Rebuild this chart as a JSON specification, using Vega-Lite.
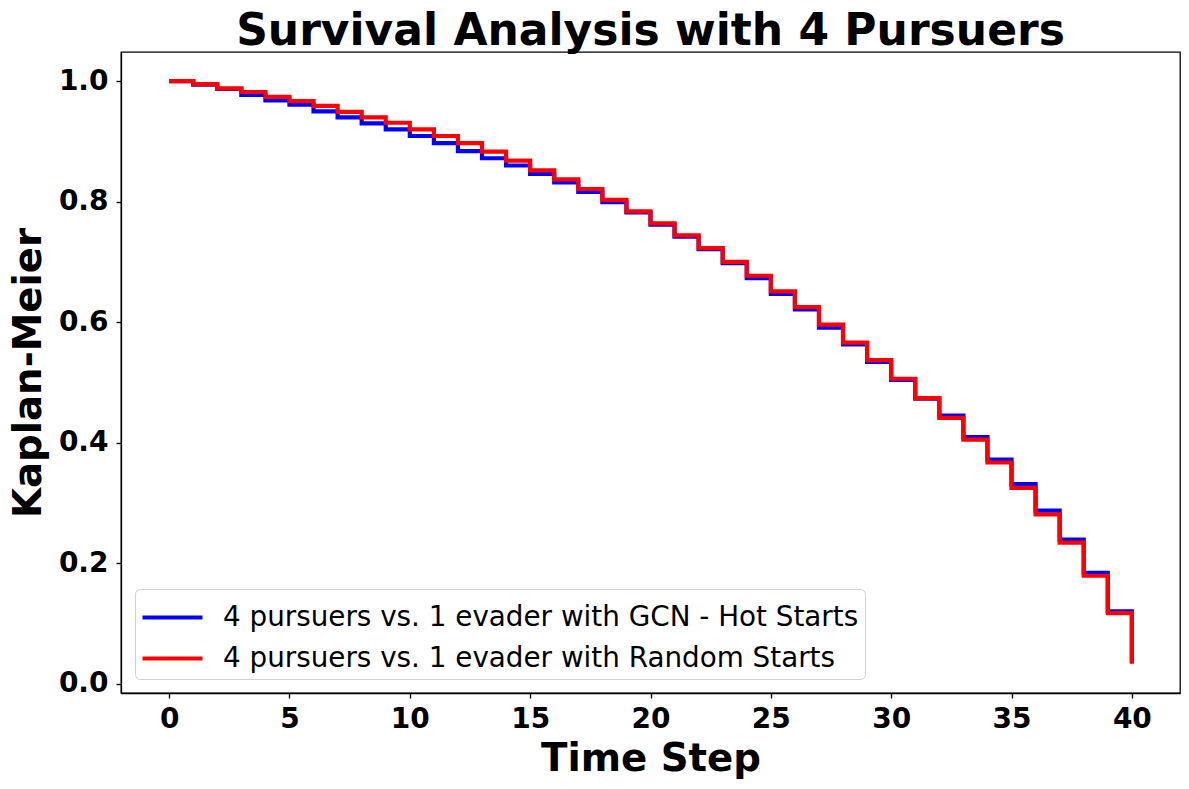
{
  "$schema": "https://vega.github.io/schema/vega-lite/v6.json",
  "width": 1059,
  "height": 641,
  "autosize": {"type": "none"},
  "padding": {"left": 121, "top": 52, "right": 9, "bottom": 96},
  "background": "white",
  "config": {
    "font": "DejaVu Sans",
    "view": {"stroke": "black", "strokeWidth": 1.3},
    "axis": {"grid": false, "domainColor": "black", "domainWidth": 1.3, "tickColor": "black", "tickWidth": 1.3, "tickSize": 5, "labelColor": "black", "labelFont": "DejaVu Sans", "labelFontWeight": "bold", "labelFontSize": 28, "titleFont": "DejaVu Sans", "titleFontWeight": "bold", "titleFontSize": 38.7, "titleColor": "black"}
  },
  "title": {"text": "Survival Analysis with 4 Pursuers", "font": "DejaVu Sans", "fontSize": 44, "fontWeight": "bold", "color": "black", "anchor": "middle", "offset": -2},
  "data": {"values": [
    {"t":0,"series":"4 pursuers vs. 1 evader with GCN - Hot Starts","km":1.0},
    {"t":1,"series":"4 pursuers vs. 1 evader with GCN - Hot Starts","km":0.994},
    {"t":2,"series":"4 pursuers vs. 1 evader with GCN - Hot Starts","km":0.987},
    {"t":3,"series":"4 pursuers vs. 1 evader with GCN - Hot Starts","km":0.977},
    {"t":4,"series":"4 pursuers vs. 1 evader with GCN - Hot Starts","km":0.968},
    {"t":5,"series":"4 pursuers vs. 1 evader with GCN - Hot Starts","km":0.961},
    {"t":6,"series":"4 pursuers vs. 1 evader with GCN - Hot Starts","km":0.950},
    {"t":7,"series":"4 pursuers vs. 1 evader with GCN - Hot Starts","km":0.940},
    {"t":8,"series":"4 pursuers vs. 1 evader with GCN - Hot Starts","km":0.930},
    {"t":9,"series":"4 pursuers vs. 1 evader with GCN - Hot Starts","km":0.920},
    {"t":10,"series":"4 pursuers vs. 1 evader with GCN - Hot Starts","km":0.909},
    {"t":11,"series":"4 pursuers vs. 1 evader with GCN - Hot Starts","km":0.897},
    {"t":12,"series":"4 pursuers vs. 1 evader with GCN - Hot Starts","km":0.884},
    {"t":13,"series":"4 pursuers vs. 1 evader with GCN - Hot Starts","km":0.872},
    {"t":14,"series":"4 pursuers vs. 1 evader with GCN - Hot Starts","km":0.860},
    {"t":15,"series":"4 pursuers vs. 1 evader with GCN - Hot Starts","km":0.846},
    {"t":16,"series":"4 pursuers vs. 1 evader with GCN - Hot Starts","km":0.832},
    {"t":17,"series":"4 pursuers vs. 1 evader with GCN - Hot Starts","km":0.816},
    {"t":18,"series":"4 pursuers vs. 1 evader with GCN - Hot Starts","km":0.799},
    {"t":19,"series":"4 pursuers vs. 1 evader with GCN - Hot Starts","km":0.782},
    {"t":20,"series":"4 pursuers vs. 1 evader with GCN - Hot Starts","km":0.762},
    {"t":21,"series":"4 pursuers vs. 1 evader with GCN - Hot Starts","km":0.742},
    {"t":22,"series":"4 pursuers vs. 1 evader with GCN - Hot Starts","km":0.721},
    {"t":23,"series":"4 pursuers vs. 1 evader with GCN - Hot Starts","km":0.698},
    {"t":24,"series":"4 pursuers vs. 1 evader with GCN - Hot Starts","km":0.673},
    {"t":25,"series":"4 pursuers vs. 1 evader with GCN - Hot Starts","km":0.647},
    {"t":26,"series":"4 pursuers vs. 1 evader with GCN - Hot Starts","km":0.621},
    {"t":27,"series":"4 pursuers vs. 1 evader with GCN - Hot Starts","km":0.591},
    {"t":28,"series":"4 pursuers vs. 1 evader with GCN - Hot Starts","km":0.563},
    {"t":29,"series":"4 pursuers vs. 1 evader with GCN - Hot Starts","km":0.534},
    {"t":30,"series":"4 pursuers vs. 1 evader with GCN - Hot Starts","km":0.504},
    {"t":31,"series":"4 pursuers vs. 1 evader with GCN - Hot Starts","km":0.473},
    {"t":32,"series":"4 pursuers vs. 1 evader with GCN - Hot Starts","km":0.445},
    {"t":33,"series":"4 pursuers vs. 1 evader with GCN - Hot Starts","km":0.409},
    {"t":34,"series":"4 pursuers vs. 1 evader with GCN - Hot Starts","km":0.372},
    {"t":35,"series":"4 pursuers vs. 1 evader with GCN - Hot Starts","km":0.331},
    {"t":36,"series":"4 pursuers vs. 1 evader with GCN - Hot Starts","km":0.287},
    {"t":37,"series":"4 pursuers vs. 1 evader with GCN - Hot Starts","km":0.239},
    {"t":38,"series":"4 pursuers vs. 1 evader with GCN - Hot Starts","km":0.184},
    {"t":39,"series":"4 pursuers vs. 1 evader with GCN - Hot Starts","km":0.120},
    {"t":40,"series":"4 pursuers vs. 1 evader with GCN - Hot Starts","km":0.034},
    {"t":0,"series":"4 pursuers vs. 1 evader with Random Starts","km":1.0},
    {"t":1,"series":"4 pursuers vs. 1 evader with Random Starts","km":0.995},
    {"t":2,"series":"4 pursuers vs. 1 evader with Random Starts","km":0.988},
    {"t":3,"series":"4 pursuers vs. 1 evader with Random Starts","km":0.982},
    {"t":4,"series":"4 pursuers vs. 1 evader with Random Starts","km":0.974},
    {"t":5,"series":"4 pursuers vs. 1 evader with Random Starts","km":0.967},
    {"t":6,"series":"4 pursuers vs. 1 evader with Random Starts","km":0.959},
    {"t":7,"series":"4 pursuers vs. 1 evader with Random Starts","km":0.949},
    {"t":8,"series":"4 pursuers vs. 1 evader with Random Starts","km":0.940},
    {"t":9,"series":"4 pursuers vs. 1 evader with Random Starts","km":0.931},
    {"t":10,"series":"4 pursuers vs. 1 evader with Random Starts","km":0.920},
    {"t":11,"series":"4 pursuers vs. 1 evader with Random Starts","km":0.909},
    {"t":12,"series":"4 pursuers vs. 1 evader with Random Starts","km":0.897},
    {"t":13,"series":"4 pursuers vs. 1 evader with Random Starts","km":0.883},
    {"t":14,"series":"4 pursuers vs. 1 evader with Random Starts","km":0.868},
    {"t":15,"series":"4 pursuers vs. 1 evader with Random Starts","km":0.852},
    {"t":16,"series":"4 pursuers vs. 1 evader with Random Starts","km":0.837},
    {"t":17,"series":"4 pursuers vs. 1 evader with Random Starts","km":0.821},
    {"t":18,"series":"4 pursuers vs. 1 evader with Random Starts","km":0.803},
    {"t":19,"series":"4 pursuers vs. 1 evader with Random Starts","km":0.784},
    {"t":20,"series":"4 pursuers vs. 1 evader with Random Starts","km":0.764},
    {"t":21,"series":"4 pursuers vs. 1 evader with Random Starts","km":0.744},
    {"t":22,"series":"4 pursuers vs. 1 evader with Random Starts","km":0.723},
    {"t":23,"series":"4 pursuers vs. 1 evader with Random Starts","km":0.700},
    {"t":24,"series":"4 pursuers vs. 1 evader with Random Starts","km":0.677},
    {"t":25,"series":"4 pursuers vs. 1 evader with Random Starts","km":0.651},
    {"t":26,"series":"4 pursuers vs. 1 evader with Random Starts","km":0.625},
    {"t":27,"series":"4 pursuers vs. 1 evader with Random Starts","km":0.596},
    {"t":28,"series":"4 pursuers vs. 1 evader with Random Starts","km":0.566},
    {"t":29,"series":"4 pursuers vs. 1 evader with Random Starts","km":0.537},
    {"t":30,"series":"4 pursuers vs. 1 evader with Random Starts","km":0.506},
    {"t":31,"series":"4 pursuers vs. 1 evader with Random Starts","km":0.474},
    {"t":32,"series":"4 pursuers vs. 1 evader with Random Starts","km":0.441},
    {"t":33,"series":"4 pursuers vs. 1 evader with Random Starts","km":0.405},
    {"t":34,"series":"4 pursuers vs. 1 evader with Random Starts","km":0.367},
    {"t":35,"series":"4 pursuers vs. 1 evader with Random Starts","km":0.325},
    {"t":36,"series":"4 pursuers vs. 1 evader with Random Starts","km":0.281},
    {"t":37,"series":"4 pursuers vs. 1 evader with Random Starts","km":0.234},
    {"t":38,"series":"4 pursuers vs. 1 evader with Random Starts","km":0.179},
    {"t":39,"series":"4 pursuers vs. 1 evader with Random Starts","km":0.117},
    {"t":40,"series":"4 pursuers vs. 1 evader with Random Starts","km":0.033}
  ]},
  "mark": {"type": "line", "interpolate": "step-after", "strokeWidth": 4.2, "clip": true},
  "encoding": {
    "x": {"field": "t", "type": "quantitative", "scale": {"domain": [-2, 42], "nice": false, "zero": false},
      "axis": {"values": [0, 5, 10, 15, 20, 25, 30, 35, 40], "title": "Time Step", "labelPadding": 7, "titlePadding": 6, "labelFlush": false}},
    "y": {"field": "km", "type": "quantitative", "scale": {"domain": [-0.0156, 1.0484], "nice": false, "zero": false},
      "axis": {"values": [0, 0.2, 0.4, 0.6, 0.8, 1.0], "format": ".1f", "title": "Kaplan-Meier", "labelPadding": 8, "titlePadding": 10, "labelFlush": false}},
    "color": {"field": "series", "type": "nominal",
      "scale": {"domain": ["4 pursuers vs. 1 evader with GCN - Hot Starts", "4 pursuers vs. 1 evader with Random Starts"], "range": ["#0000ff", "#ff0000"]},
      "legend": {"title": null, "orient": "bottom-left", "offset": 14, "symbolType": "M-1.5,0H1.5", "symbolSize": 1600, "symbolStrokeWidth": 4.2, "symbolOffset": 9, "labelFont": "DejaVu Sans", "labelFontSize": 27.8, "labelColor": "black", "labelOffset": 28, "labelLimit": 900, "rowPadding": 4, "padding": 6, "strokeColor": "#d0d0d0", "fillColor": "rgba(255,255,255,0.8)", "cornerRadius": 5}}
  }
}
